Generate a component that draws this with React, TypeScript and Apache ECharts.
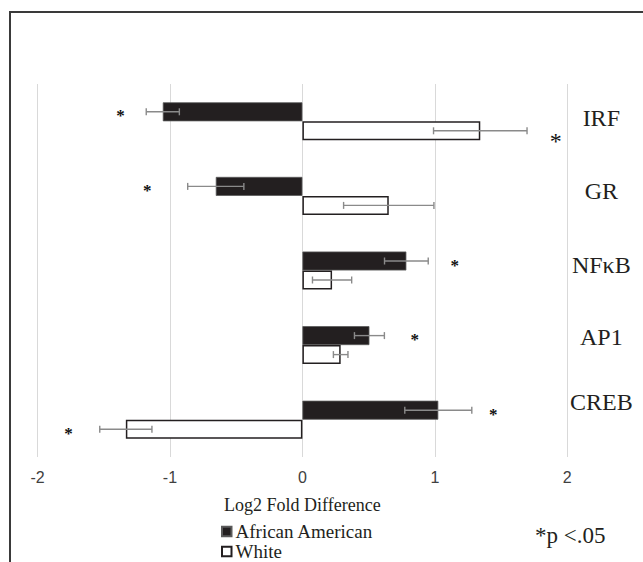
import React, { useEffect, useRef } from 'react';
import * as echarts from 'echarts';

// ---- data ----
const categories = ['IRF', 'GR', 'NFκB', 'AP1', 'CREB'];
const seriesNames = ['African American', 'White'];
const africanAmerican = [-1.054, -0.654, 0.785, 0.506, 1.026];
const africanAmericanErr = [0.125, 0.212, 0.165, 0.113, 0.253];
const white = [1.343, 0.652, 0.224, 0.289, -1.333];
const whiteErr = [0.353, 0.341, 0.148, 0.055, 0.197];
const aaStarX = [-1.374, -1.172, 1.15, 0.848, 1.44];
const whiteStarX = [1.912, null, null, null, -1.766];
const xTicks = [-2, -1, 0, 1, 2];
const significanceNote = '*p <.05';
const axisTitle = 'Log2 Fold Difference';

// ---- styles ----
const SERIF = 'Liberation Serif';
const SANS = 'Liberation Sans';
const DARK = '#231f20';
const BAR_W = 19;
const labelLift = [6, 10, 11, 17, 36];
const bigStar = [true, false, false, false, false];

function errRender(side: number) {
  return (params: any, api: any) => {
    const v = api.value(0);
    const c = api.value(1);
    const e = api.value(2);
    const a = api.coord([v - e, c]);
    const b = api.coord([v + e, c]);
    const y = a[1] + (side * BAR_W) / 2;
    const stroke = { stroke: '#8a8a8a', lineWidth: 1.4 };
    return {
      type: 'group',
      children: [
        { type: 'line', shape: { x1: a[0], y1: y, x2: b[0], y2: y }, style: stroke },
        { type: 'line', shape: { x1: a[0], y1: y - 3.5, x2: a[0], y2: y + 3.5 }, style: stroke },
        { type: 'line', shape: { x1: b[0], y1: y - 3.5, x2: b[0], y2: y + 3.5 }, style: stroke },
      ],
    };
  };
}

function starRender(side: number) {
  return (params: any, api: any) => {
    const x = api.value(0);
    const c = api.value(1);
    const p = api.coord([x, c]);
    const big = bigStar[c] && side > 0;
    const fs = big ? 24 : 17;
    const extra = big ? 4 : 0;
    return {
      type: 'text',
      x: p[0],
      y: p[1] + (side * BAR_W) / 2 + fs * 0.24 + extra,
      style: {
        text: '*',
        fontFamily: SERIF,
        fontSize: fs,
        fontWeight: big ? 'normal' : 'bold',
        fill: '#111111',
        align: 'center',
        verticalAlign: 'middle',
      },
    };
  };
}

export default function App() {
  const ref = useRef<HTMLDivElement>(null);
  useEffect(() => {
    if (!ref.current) return;
    const chart = echarts.init(ref.current, null, { renderer: 'svg' });
    const rich: any = {};
    labelLift.forEach((p, i) => {
      rich['l' + i] = {
        fontFamily: SERIF,
        fontSize: 24,
        color: DARK,
        padding: [0, 0, p, 0],
      };
    });
    const option: any = {
      animation: false,
      backgroundColor: '#ffffff',
      grid: { left: 37.5, right: 75.7, top: 84, bottom: 105, containLabel: false },
      legend: {
        data: seriesNames,
        orient: 'vertical',
        left: 221,
        top: 522,
        height: 60,
        itemWidth: 9.5,
        itemHeight: 9.5,
        itemGap: 1,
        icon: 'rect',
        padding: 0,
        textStyle: { fontFamily: SERIF, fontSize: 19, color: DARK, padding: [0, 0, 0, -1] },
      },
      xAxis: {
        type: 'value',
        min: xTicks[0],
        max: xTicks[xTicks.length - 1],
        interval: 1,
        axisLine: { show: false },
        axisTick: { show: false },
        splitLine: { show: true, lineStyle: { color: '#d9d9d9', width: 1 } },
        axisLabel: { fontFamily: SANS, fontSize: 16, color: '#404040', margin: 12 },
        name: axisTitle,
        nameLocation: 'middle',
        nameGap: 39,
        nameTextStyle: { fontFamily: SERIF, fontSize: 18, color: DARK },
      },
      yAxis: {
        type: 'category',
        data: categories,
        inverse: true,
        position: 'right',
        axisLine: { show: false, onZero: false },
        axisTick: { show: false },
        splitLine: { show: false },
        axisLabel: {
          margin: 34,
          align: 'center',
          fontFamily: SERIF,
          fontSize: 24,
          color: DARK,
          formatter: (v: string, i: number) => `{l${i}|${v}}`,
          rich,
        },
      },
      series: [
        {
          type: 'bar',
          name: seriesNames[0],
          data: africanAmerican,
          barWidth: BAR_W,
          barGap: '0%',
          itemStyle: { color: DARK, borderColor: '#5a5a5a', borderWidth: 0.8 },
        },
        {
          type: 'bar',
          name: seriesNames[1],
          data: white,
          barWidth: BAR_W,
          barGap: '0%',
          itemStyle: { color: '#ffffff', borderColor: DARK, borderWidth: 1.5 },
        },
        {
          type: 'custom',
          name: 'errAA',
          data: africanAmerican.map((v, i) => [v, i, africanAmericanErr[i]]),
          encode: { x: 0, y: 1 },
          renderItem: errRender(-1),
          z: 5,
          silent: true,
        },
        {
          type: 'custom',
          name: 'errW',
          data: white.map((v, i) => [v, i, whiteErr[i]]),
          encode: { x: 0, y: 1 },
          renderItem: errRender(1),
          z: 5,
          silent: true,
        },
        {
          type: 'custom',
          name: 'starAA',
          data: aaStarX.map((x, i) => [x, i]).filter((d) => d[0] != null),
          encode: { x: 0, y: 1 },
          renderItem: starRender(-1),
          z: 6,
          silent: true,
        },
        {
          type: 'custom',
          name: 'starW',
          data: whiteStarX.map((x, i) => [x, i]).filter((d) => d[0] != null),
          encode: { x: 0, y: 1 },
          renderItem: starRender(1),
          z: 6,
          silent: true,
        },
      ],
      graphic: [
        {
          type: 'polyline',
          silent: true,
          z: -10,
          shape: { points: [[10, 562], [10, 12], [643, 12]] },
          style: { fill: 'none', stroke: '#3a3a3a', lineWidth: 2 },
        },
        {
          type: 'text',
          x: 535,
          y: 535,
          style: {
            text: significanceNote,
            fontFamily: SERIF,
            fontSize: 23,
            fill: DARK,
            align: 'left',
            verticalAlign: 'middle',
          },
        },
      ],
    };
    chart.setOption(option);
    return () => chart.dispose();
  }, []);
  return (
    <div
      ref={ref}
      style={{ position: 'fixed', left: 0, top: 0, width: 643, height: 562, background: '#fff' }}
    />
  );
}
